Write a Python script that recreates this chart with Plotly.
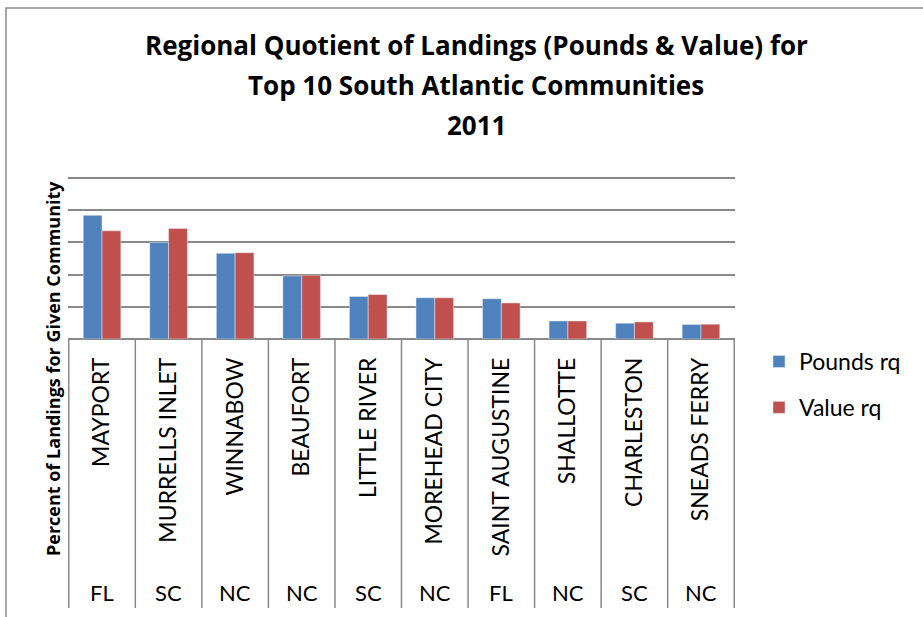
import plotly.graph_objects as go

communities = ["MAYPORT", "MURRELLS INLET", "WINNABOW", "BEAUFORT", "LITTLE RIVER",
               "MOREHEAD CITY", "SAINT AUGUSTINE", "SHALLOTTE", "CHARLESTON", "SNEADS FERRY"]
states = ["FL", "SC", "NC", "NC", "SC", "NC", "FL", "NC", "SC", "NC"]
pounds_rq = [0.384, 0.300, 0.266, 0.196, 0.132, 0.128, 0.125, 0.056, 0.049, 0.045]
value_rq = [0.336, 0.343, 0.268, 0.198, 0.138, 0.128, 0.112, 0.056, 0.053, 0.046]
title_lines = ["Regional Quotient of Landings (Pounds & Value) for",
               "Top 10 South Atlantic Communities", "2011"]

W, H = 923, 617
L, R, T, B = 68, 188, 172, 278
PW, PH = W - L - R, H - T - B
Y_TOP = 0.5 * PH / 161.0  # top gridline (0.5) sits at pixel 178


def px_x(px):
    return (px - L) / PW


def px_y(py):
    return (H - B - py) / PH


GRID = "#898989"
FONT = "Lato, 'Open Sans', sans-serif"
WIDE = "'Open Sans', Lato, sans-serif"

fig = go.Figure()
fig.add_trace(go.Bar(x=communities, y=pounds_rq, name="Pounds rq", marker_color="#4F81BD",
                     legendgroup="a"))
fig.add_trace(go.Bar(x=communities, y=value_rq, name="Value rq", marker_color="#C0504D",
                     legendgroup="b"))

shapes = []
# category separators below the baseline
for i in range(len(communities) + 1):
    shapes.append(dict(type="line", xref="x", yref="paper", x0=i - 0.5, x1=i - 0.5,
                       y0=0, y1=px_y(608), line=dict(color=GRID, width=1.5)))
# chart frame
shapes.append(dict(type="rect", xref="paper", yref="paper", x0=px_x(6), x1=px_x(950),
                   y0=px_y(8), y1=px_y(640), line=dict(color=GRID, width=1.5)))

annotations = []
for c, s in zip(communities, states):
    annotations.append(dict(x=c, xref="x", y=px_y(592), yref="paper", text=s,
                            showarrow=False, xanchor="center", yanchor="middle",
                            font=dict(family=FONT, size=22, color="#000")))
for k, line in enumerate(title_lines):
    annotations.append(dict(x=px_x(476), xref="paper", y=px_y(45 + 40 * k), yref="paper",
                            text="<b>" + line + "</b>", showarrow=False,
                            xanchor="center", yanchor="middle",
                            font=dict(family=WIDE, size=26, color="#000")))
annotations.append(dict(x=px_x(53), xref="paper", y=px_y(369), yref="paper",
                        text="<b>Percent of Landings for Given Community</b>",
                        textangle=-90, showarrow=False, xanchor="center", yanchor="middle",
                        font=dict(family=WIDE, size=18, color="#000")))

fig.update_layout(
    width=W, height=H,
    margin=dict(l=L, r=R, t=T, b=B),
    paper_bgcolor="white", plot_bgcolor="white",
    barmode="group", bargap=0.435, bargroupgap=0,
    shapes=shapes, annotations=annotations,
    legend=dict(x=px_x(759), y=px_y(340), xanchor="left", yanchor="top",
                traceorder="grouped", tracegroupgap=13,
                font=dict(family=FONT, size=23, color="#000")),
    xaxis=dict(type="category", tickangle=-90, ticks="", ticklabelstandoff=13,
               showline=False, showgrid=False,
               tickfont=dict(family=FONT, size=23, color="#000")),
    yaxis=dict(range=[0, Y_TOP], tick0=0, dtick=0.1, showticklabels=False, showgrid=True,
               gridcolor=GRID, gridwidth=1.5, zeroline=True, zerolinecolor=GRID,
               zerolinewidth=1.5, showline=False),
)

fig.write_html("out.html")
